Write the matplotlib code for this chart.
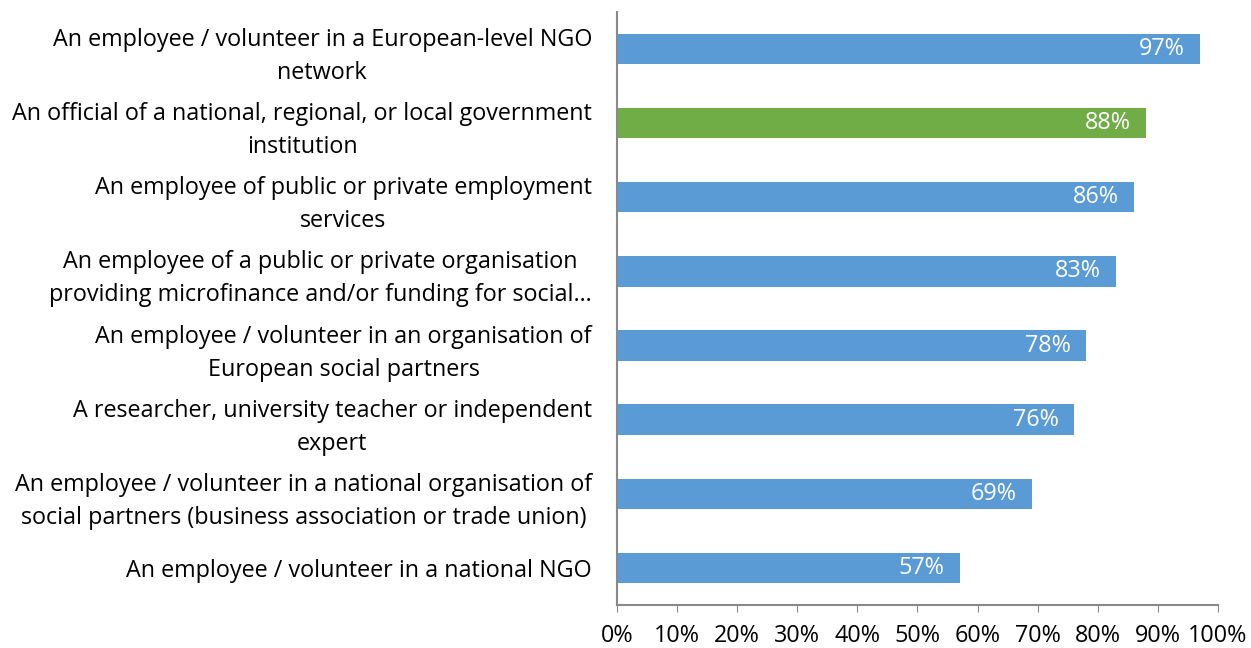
import matplotlib.pyplot as plt
from matplotlib.ticker import MultipleLocator, PercentFormatter

plt.rcParams['font.family'] = ['Open Sans', 'DejaVu Sans']

categories = [
    "An employee / volunteer in a European-level NGO\nnetwork",
    "An official of a national, regional, or local government\ninstitution",
    "An employee of public or private employment\nservices",
    "An employee of a public or private organisation\nproviding microfinance and/or funding for social\u2026",
    "An employee / volunteer in an organisation of\nEuropean social partners",
    "A researcher, university teacher or independent\nexpert",
    "An employee / volunteer in a national organisation of\nsocial partners (business association or trade union)",
    "An employee / volunteer in a national NGO",
]
values = [97, 88, 86, 83, 78, 76, 69, 57]
highlight = 1

blue = "#5B9BD5"
green = "#70AD47"
colors = [green if i == highlight else blue for i in range(len(values))]

fig = plt.figure(figsize=(12.51, 6.48), dpi=100)
ax = fig.add_axes([0.4932, 0.0664, 0.4804, 0.9151])

y = list(range(len(values)))
bars = ax.barh(y, values, height=0.41, color=colors)
ax.set_ylim(len(values) - 0.5, -0.5)
ax.set_xlim(0, 100)

for b, v in zip(bars, values):
    ax.text(b.get_width() - 2.5, b.get_y() + b.get_height() / 2, f"{v}%",
            ha="right", va="center", color="white", fontsize=16.8)

ax.set_yticks(y)
ax.set_yticklabels(categories, fontsize=16.8, multialignment="center",
                   linespacing=1.5)
ax.tick_params(axis="y", length=0, pad=18)

ax.xaxis.set_major_locator(MultipleLocator(10))
ax.xaxis.set_major_formatter(PercentFormatter(decimals=0))
ax.tick_params(axis="x", direction="out", length=5, color="#898989",
               labelsize=16.8, pad=9)

for s in ("top", "right"):
    ax.spines[s].set_visible(False)
for s in ("left", "bottom"):
    ax.spines[s].set_color("#898989")
    ax.spines[s].set_linewidth(1.5)

fig.savefig("out.png", dpi=100)
